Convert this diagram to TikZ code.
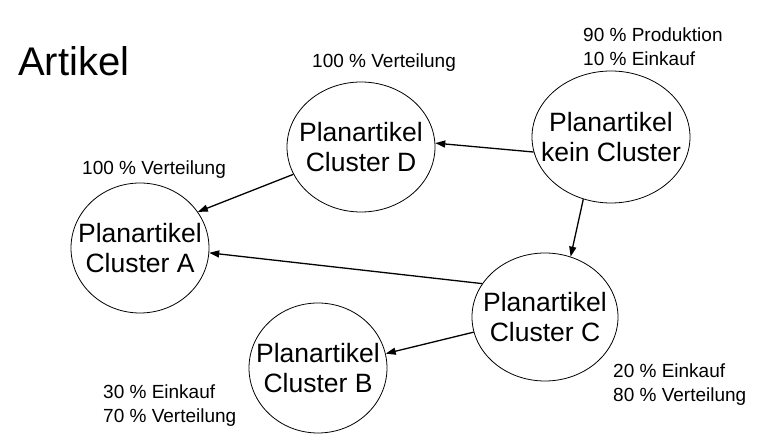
\documentclass[tikz,border=0pt]{standalone}
\usepackage{fontspec}
\setmainfont{Liberation Sans}
\usetikzlibrary{shapes.geometric,arrows.meta}
\newcommand{\circtext}[2]{\makebox[0pt]{\raisebox{-4pt}[\height][\depth]{\fontsize{26.5}{30}\selectfont\begin{tabular}{@{}c@{}}#1\\#2\end{tabular}}}}
\begin{document}
\begin{tikzpicture}[x=1pt,y=-1pt,
  cluster/.style={ellipse, draw, line width=0.8pt, inner sep=0pt},
  lbl/.style={anchor=base west, inner sep=0pt, font=\fontsize{19}{23.5}\selectfont},
  flow/.style={line width=1.3pt, -{Triangle[length=10pt,width=7pt]}}]
\fill[white] (0,0) rectangle (764,443);
\useasboundingbox (0,0) rectangle (764,443);
\node[anchor=base west, inner sep=0pt, font=\fontsize{40}{48}\selectfont] (title) at (18,76) {Artikel};
\node[cluster, minimum width=148pt, minimum height=130pt] (D) at (361,147) {\circtext{Planartikel}{Cluster D}};
\node[cluster, minimum width=158pt, minimum height=132pt] (K) at (611,137) {\circtext{Planartikel}{kein Cluster}};
\node[cluster, minimum width=138pt, minimum height=130pt] (A) at (140,248) {\circtext{Planartikel}{Cluster A}};
\node[cluster, minimum width=138pt, minimum height=130pt] (B) at (318,368) {\circtext{Planartikel}{Cluster B}};
\node[cluster, minimum width=146pt, minimum height=128pt] (C) at (545,317) {\circtext{Planartikel}{Cluster C}};
\node[lbl] (lD) at (312,68) {100 \% Verteilung};
\node[lbl] (lA) at (82,175) {100 \% Verteilung};
\node[lbl] (lK) at (583,42) {\begin{tabular}[t]{@{}l@{}}90 \% Produktion\\10 \% Einkauf\end{tabular}};
\node[lbl] (lC) at (613,378) {\begin{tabular}[t]{@{}l@{}}20 \% Einkauf\\80 \% Verteilung\end{tabular}};
\node[lbl] (lB) at (103,399) {\begin{tabular}[t]{@{}l@{}}30 \% Einkauf\\70 \% Verteilung\end{tabular}};
\draw[flow] (K.191) -- (D.3);
\draw[flow] (D.202) -- (A.32);
\draw[flow] (K.246) -- (C.67);
\draw[flow] (C.152) -- (A.356);
\draw[flow] (C.192) -- (B.12);
\end{tikzpicture}
\end{document}
